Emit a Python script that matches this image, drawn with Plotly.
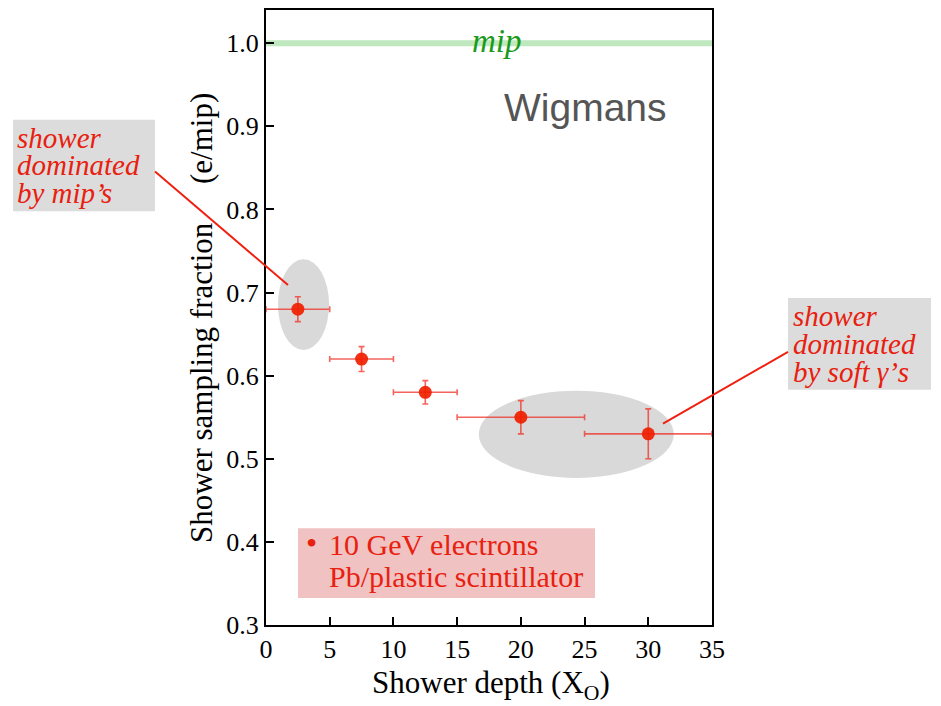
import plotly.graph_objects as go

# ---- data ----
depth = [2.5, 7.5, 12.5, 20, 30]
depth_err = [2.5, 2.5, 2.5, 5, 5]
frac = [0.68, 0.62, 0.58, 0.55, 0.53]
frac_err = [0.015, 0.015, 0.014, 0.02, 0.03]
x_ticks = [0, 5, 10, 15, 20, 25, 30, 35]
y_ticks = [0.3, 0.4, 0.5, 0.6, 0.7, 0.8, 0.9, 1.0]
mip_level = 1.0

# ---- layout geometry (pixels) ----
W, H = 941, 706
L, R, T, B = 266, 712, 8, 625


def px(x):
    return (x - L) / (R - L)


def py(y):
    return (B - y) / (B - T)


RED = "#e8200f"
SERIF = "Liberation Serif"

fig = go.Figure()
fig.add_trace(go.Scatter(
    x=depth, y=frac, mode="markers",
    marker=dict(color="rgba(240,32,0,0.92)", size=13),
    error_x=dict(type="data", array=depth_err, color="rgba(238,40,30,0.72)",
                 thickness=1.6, width=3),
    error_y=dict(type="data", array=frac_err, color="rgba(238,40,30,0.72)",
                 thickness=1.6, width=3),
    showlegend=False, cliponaxis=True,
))

shapes = []
# grey ellipses highlighting regions
shapes.append(dict(type="circle", xref="x", yref="y", x0=0.94, x1=4.95,
                   y0=0.631, y1=0.740, fillcolor="#d9d9d9",
                   line=dict(width=0), layer="below"))
shapes.append(dict(type="circle", xref="x", yref="y", x0=16.7, x1=32.0,
                   y0=0.477, y1=0.582, fillcolor="#d9d9d9",
                   line=dict(width=0), layer="below"))
# mip line
shapes.append(dict(type="line", xref="x", yref="y", x0=0, x1=35,
                   y0=mip_level, y1=mip_level,
                   line=dict(color="#bfe8bf", width=6), layer="below"))
# annotation boxes
shapes.append(dict(type="rect", xref="paper", yref="paper",
                   x0=px(13), x1=px(155), y0=py(210), y1=py(118),
                   fillcolor="#dcdcdc", line=dict(width=0)))
shapes.append(dict(type="rect", xref="paper", yref="paper",
                   x0=px(788), x1=px(931), y0=py(389), y1=py(297),
                   fillcolor="#dcdcdc", line=dict(width=0)))
shapes.append(dict(type="rect", xref="paper", yref="paper",
                   x0=px(298), x1=px(595), y0=py(598), y1=py(528),
                   fillcolor="#f0c2c2", line=dict(width=0)))
# leader lines
shapes.append(dict(type="line", xref="paper", yref="paper",
                   x0=px(155), y0=py(170), x1=px(288), y1=py(284),
                   line=dict(color="#f02010", width=2)))
shapes.append(dict(type="line", xref="paper", yref="paper",
                   x0=px(788), y0=py(351), x1=px(663), y1=py(423),
                   line=dict(color="#f02010", width=2)))

ann = []


def text(t, x, y, size, color, family=SERIF, xanchor="left", yanchor="middle", angle=0):
    ann.append(dict(text=t, xref="paper", yref="paper", x=px(x), y=py(y),
                    xanchor=xanchor, yanchor=yanchor, showarrow=False,
                    textangle=angle,
                    font=dict(size=size, color=color, family=family)))


# left box text
for i, line in enumerate(["<i>shower</i>", "<i>dominated</i>", "<i>by mip’s</i>"]):
    text(line, 15, 136 + 28 * i, 29, RED)
# right box text
for i, line in enumerate(["<i>shower</i>", "<i>dominated</i>", "<i>by soft γ’s</i>"]):
    text(line, 791, 315 + 28 * i, 29, RED)
# legend box text
text("•", 304, 543, 32, RED)
text("10 GeV electrons", 327, 544, 30, RED)
text("Pb/plastic scintillator", 327, 576, 30, RED)
# mip label
text("<i>mip</i>", 497, 39, 33, "#1a9a1a", xanchor="center")
# Wigmans
text("Wigmans", 585, 106, 39, "#555555",
     family="Liberation Sans", xanchor="center")
# axis titles
text("Shower depth (X<sub>O</sub>)", 491, 685, 31, "black", xanchor="center")
text("Shower sampling fraction\u00a0\u00a0\u00a0\u00a0 (e/mip)", 202, 317, 31, "black",
     xanchor="center", angle=-90)

fig.update_layout(
    width=W, height=H,
    margin=dict(l=L, r=W - R, t=T, b=H - B),
    paper_bgcolor="white", plot_bgcolor="white",
    shapes=shapes, annotations=ann,
    font=dict(family=SERIF, color="black"),
)
fig.update_xaxes(range=[0, 35], tickvals=x_ticks, ticks="inside", ticklen=8,
                 tickwidth=1.5, tickcolor="black", showline=True, linecolor="black",
                 linewidth=2, mirror=True, showgrid=False, zeroline=False,
                 tickfont=dict(size=26, family=SERIF, color="black"))
fig.update_yaxes(range=[0.3, 1.04], tickvals=y_ticks, ticktext=[f"{v:.1f}" for v in y_ticks],
                 ticks="inside", ticklen=8,
                 tickwidth=1.5, tickcolor="black", showline=True, linecolor="black",
                 linewidth=2, mirror=True, showgrid=False, zeroline=False,
                 tickfont=dict(size=26, family=SERIF, color="black"))

fig.write_html("out.html")
